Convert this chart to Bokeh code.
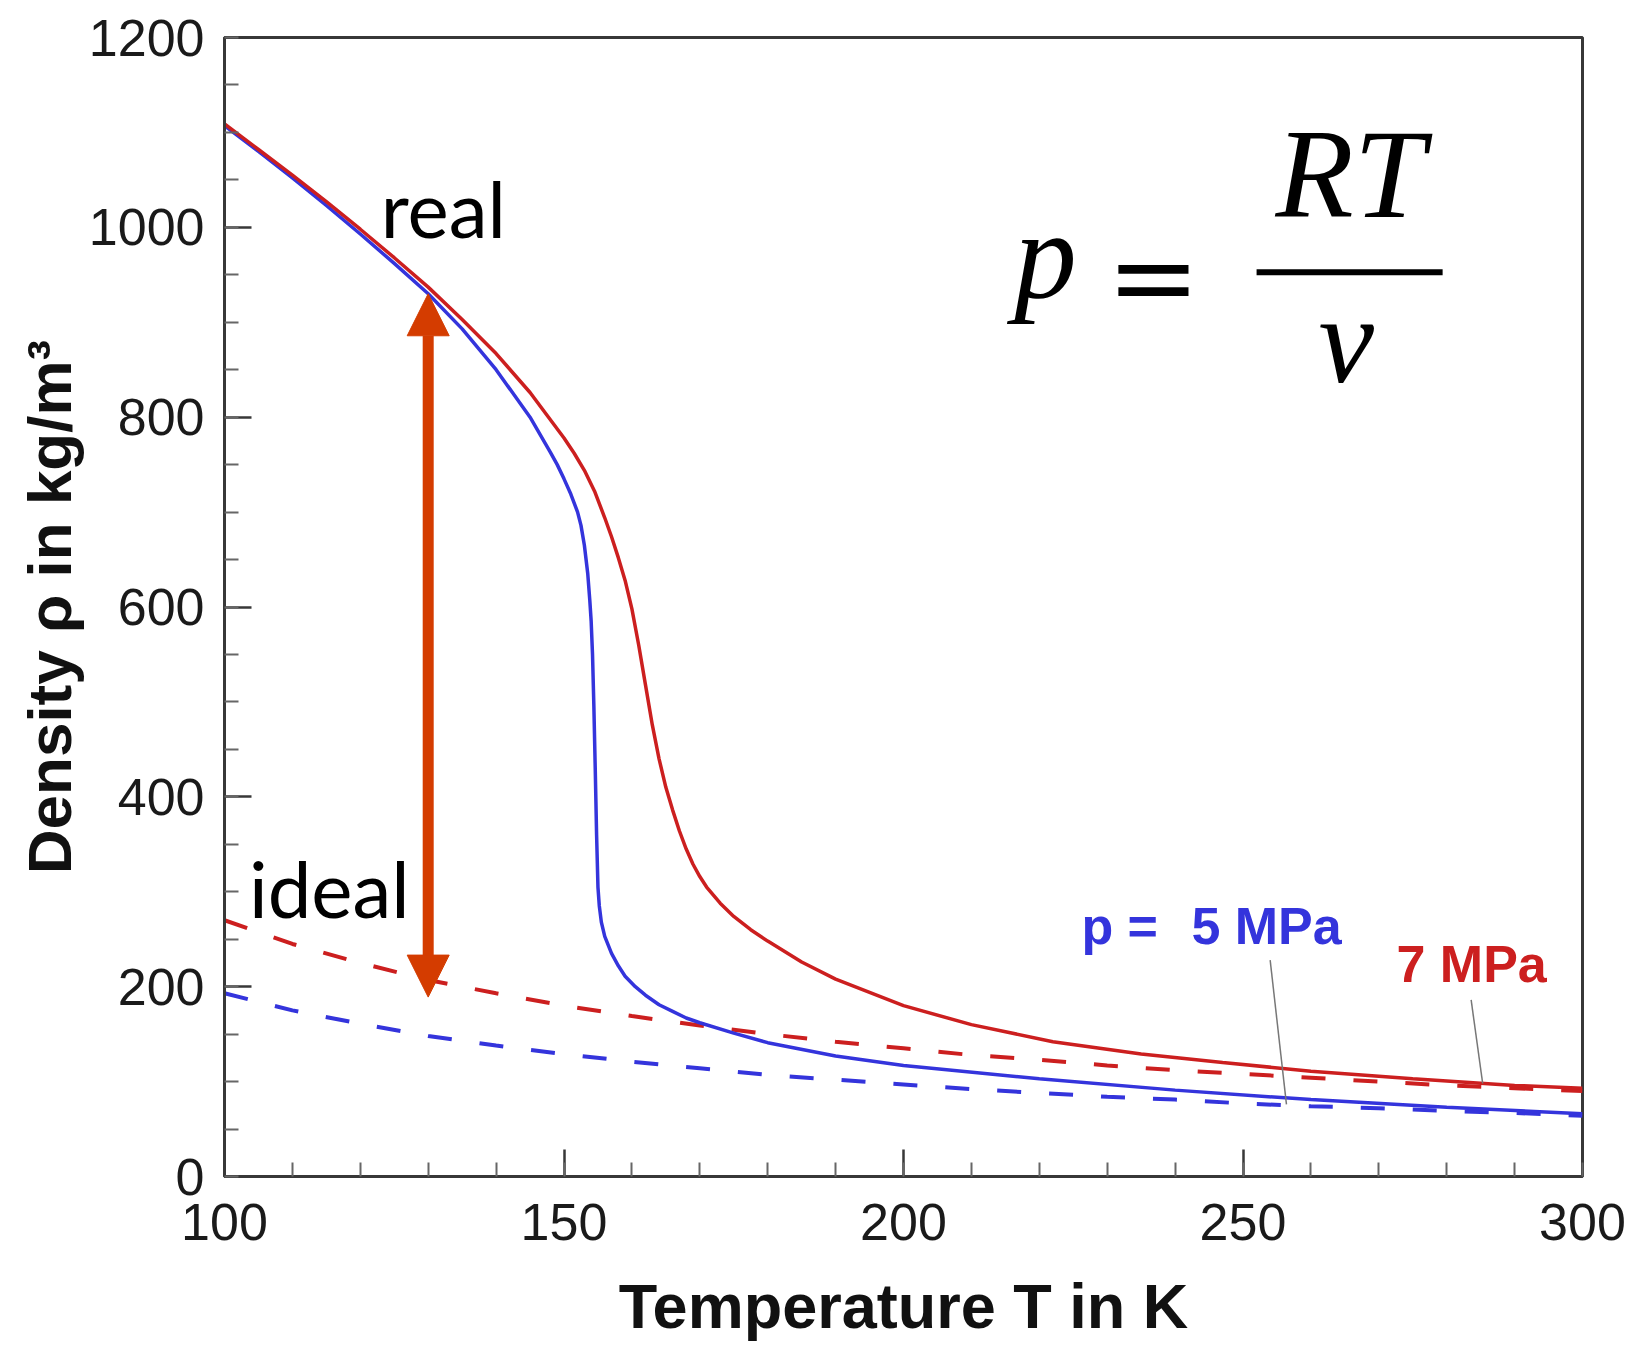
from bokeh.plotting import figure
from bokeh.models import Range1d, Label, Arrow, NormalHead, FixedTicker, ColumnDataSource
from bokeh.embed import file_html
from bokeh.resources import INLINE

# ---------------- data ----------------
# real-gas density, p = 5 MPa (blue, solid)
T_real_5 = [100, 105, 110, 115, 120, 125, 130, 135, 140, 145, 148, 149, 150, 151, 152, 152.5,
            153, 153.5, 153.8, 154, 154.2, 154.4, 154.6, 154.8, 155, 155.2, 155.5, 156, 157, 158,
            159, 160.5, 162, 164, 166, 168, 170, 175, 180, 190, 200, 220, 240, 260, 280, 300]
rho_real_5 = [1107, 1080, 1052, 1023, 993, 962, 930, 893, 850, 800, 763, 750, 735, 719, 700, 686,
              665, 635, 607, 585, 550, 495, 430, 360, 305, 285, 268, 253, 235, 222,
              211, 200, 191, 181, 174, 167, 162, 151, 141, 127, 117, 103, 91, 81, 73, 66]

# real-gas density, p = 7 MPa (red, solid)
T_real_7 = [100, 105, 110, 115, 120, 125, 130, 135, 140, 145, 150, 151.5, 153, 154.5, 156, 157,
            158, 159, 160, 161, 162, 163, 164, 165, 166, 167, 168, 169, 170, 171, 173, 175,
            177.5, 180, 185, 190, 200, 210, 222, 235, 247, 260, 275, 290, 300]
rho_real_7 = [1109, 1082, 1055, 1027, 998, 968, 937, 903, 867, 826, 778, 762, 744, 722, 694, 674,
              652, 628, 598, 560, 518, 476, 440, 410, 386, 364, 345, 329, 316, 305, 288, 274,
              260, 248, 226, 208, 180, 160, 142, 129, 120, 111, 103, 96, 93]

# ideal-gas density (dashed)
T_ideal = [100, 110, 120, 130, 140, 150, 160, 170, 180, 190, 200, 210, 220, 230, 240, 250,
           260, 270, 280, 290, 300]
rho_ideal_5 = [193, 175, 161, 148, 138, 129, 121, 114, 107, 102, 97, 92, 88, 84, 81, 77,
               74, 72, 69, 67, 64]
rho_ideal_7 = [270, 245, 225, 207, 193, 180, 169, 159, 150, 142, 135, 128, 123, 117, 112, 108,
               104, 100, 96, 93, 90]

x_major = [100, 150, 200, 250, 300]
x_minor = list(range(100, 301, 10))
y_major = [0, 200, 400, 600, 800, 1000, 1200]
y_minor = list(range(0, 1201, 50))

# annotation anchors (data units)
arrow_T = 130
arrow_bottom = 189
arrow_top = 930
leader_5 = dict(x0=[254.0], y0=[228], x1=[256.4], y1=[76])
leader_7 = dict(x0=[283.6], y0=[186], x1=[285.3], y1=[98])
frac_bar = dict(x0=[252.0], y0=[952.6], x1=[279.4], y1=[952.6])

BLUE = "#3434dc"
RED = "#cc1f1f"
ARROW = "#d43c00"
AX = "#383838"

p = figure(frame_width=1358, frame_height=1139,
           x_range=Range1d(100, 300), y_range=Range1d(0, 1200),
           output_backend="svg", toolbar_location=None,
           min_border_left=224, min_border_right=52, min_border_top=37, min_border_bottom=169,
           background_fill_color="white", border_fill_color="white")

p.xgrid.visible = False
p.ygrid.visible = False
p.outline_line_color = AX
p.outline_line_width = 3

p.xaxis.ticker = FixedTicker(ticks=x_major, minor_ticks=x_minor)
p.yaxis.ticker = FixedTicker(ticks=y_major, minor_ticks=y_minor)
p.xaxis.axis_label = "Temperature T in K"
p.yaxis.axis_label = "Density ρ in kg/m³"

for ax in (p.xaxis[0], p.yaxis[0]):
    ax.axis_line_color = AX
    ax.axis_line_width = 3
    ax.major_tick_in = 27
    ax.major_tick_out = 0
    ax.minor_tick_in = 14
    ax.minor_tick_out = 0
    ax.major_tick_line_color = AX
    ax.major_tick_line_width = 2.5
    ax.minor_tick_line_color = "#666666"
    ax.minor_tick_line_width = 2
    ax.major_label_text_font = "Liberation Sans"
    ax.major_label_text_font_size = "52px"
    ax.major_label_text_color = "#1a1a1a"
    ax.axis_label_text_font = "Liberation Sans"
    ax.axis_label_text_font_style = "bold"
    ax.axis_label_text_font_size = "63px"
    ax.axis_label_text_color = "#111111"

p.xaxis.major_label_standoff = 27
p.xaxis.axis_label_standoff = 28
p.yaxis.major_label_standoff = 20
p.yaxis.axis_label_standoff = 2
p.yaxis.axis_label_text_font_size = "62px"

# ideal (dashed)
p.line(T_ideal, rho_ideal_7, line_color=RED, line_width=4, line_dash="24 28")
p.line(T_ideal, rho_ideal_5, line_color=BLUE, line_width=4, line_dash="24 28")
# real (solid)
p.line(T_real_5, rho_real_5, line_color=BLUE, line_width=3.5)
p.line(T_real_7, rho_real_7, line_color=RED, line_width=3.5)

# leader lines
p.segment(x0="x0", y0="y0", x1="x1", y1="y1", source=ColumnDataSource(leader_5),
          line_color="#777777", line_width=1.5)
p.segment(x0="x0", y0="y0", x1="x1", y1="y1", source=ColumnDataSource(leader_7),
          line_color="#777777", line_width=1.5)

# double arrow
p.add_layout(Arrow(x_start=arrow_T, y_start=arrow_bottom, x_end=arrow_T, y_end=arrow_top,
                   line_color=ARROW, line_width=11,
                   start=NormalHead(size=42, fill_color=ARROW, line_color=ARROW, line_width=1),
                   end=NormalHead(size=42, fill_color=ARROW, line_color=ARROW, line_width=1)))

# texts
def lab(x, y, text, font, size, color="black", style="normal", align="left"):
    p.add_layout(Label(x=x, y=y, text=text, text_font=font, text_font_size=size,
                       text_color=color, text_font_style=style, text_align=align,
                       text_baseline="alphabetic"))

lab(123.0, 1020.0, "real", "Lato", "78px")
lab(103.6, 304.0, "ideal", "Lato", "78px")

lab(226.2, 264.0, "p =", "Liberation Sans", "52px", BLUE, "bold")
lab(242.4, 264.0, "5 MPa", "Liberation Sans", "52px", BLUE, "bold")
lab(272.6, 224.0, "7 MPa", "Liberation Sans", "52px", RED, "bold")

# formula p = RT / v
lab(216.3, 971.0, "p", "Liberation Serif", "125px", style="italic")
lab(236.8, 948.0, "=", "DejaVu Serif", "112px", align="center")
lab(265.8, 1056.0, "RT", "Liberation Serif", "128px", style="italic", align="center")
lab(265.2, 881.0, "v", "Liberation Serif", "125px", style="italic", align="center")
p.segment(x0="x0", y0="y0", x1="x1", y1="y1", source=ColumnDataSource(frac_bar),
          line_color="black", line_width=6)

open("out.html", "w").write(file_html(p, INLINE))
